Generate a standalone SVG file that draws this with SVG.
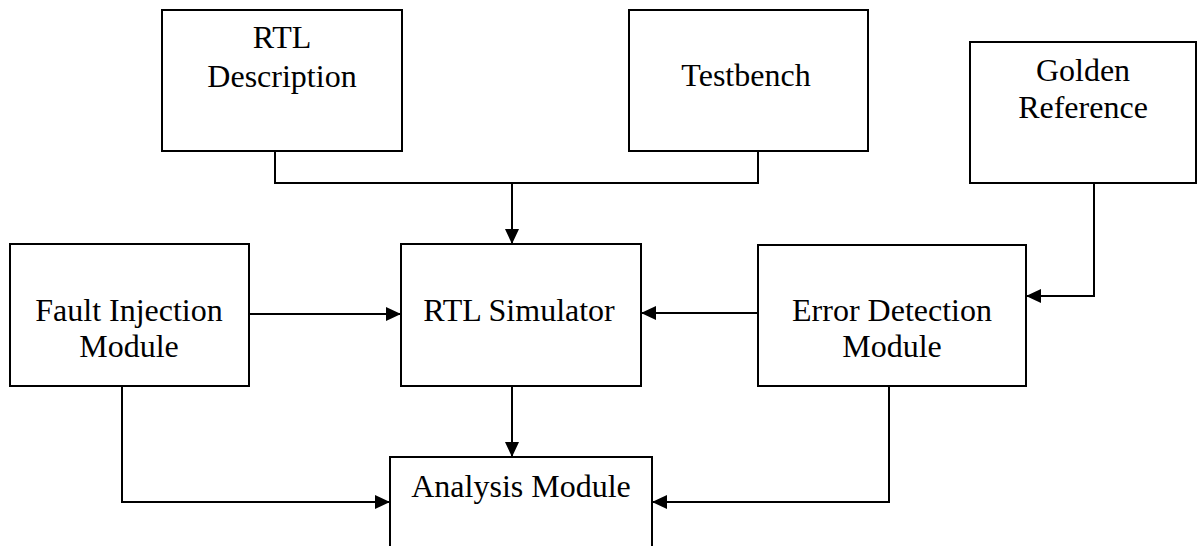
<svg xmlns="http://www.w3.org/2000/svg" width="1197" height="546" viewBox="0 0 1197 546">
  <style>
    .box { fill: #fff; stroke: #000; stroke-width: 2; }
    .lbl { font-family: "Liberation Serif", "Times New Roman", serif; font-size: 32px; fill: #000; text-anchor: middle; }
    .wire { fill: none; stroke: #000; stroke-width: 2; }
  </style>
  <defs>
    <marker id="arrow" markerUnits="userSpaceOnUse" markerWidth="15" markerHeight="14" refX="15" refY="7" orient="auto">
      <path d="M0,0 L15,7 L0,14 Z" fill="#000"/>
    </marker>
  </defs>
  <rect width="1197" height="546" fill="#fff"/>

  <g id="rtl-description">
    <rect class="box" x="162" y="10" width="240" height="141"/>
    <text class="lbl" x="282" y="48">RTL</text>
    <text class="lbl" x="282" y="87">Description</text>
  </g>
  <g id="testbench">
    <rect class="box" x="629" y="10" width="239" height="141"/>
    <text class="lbl" x="746" y="86">Testbench</text>
  </g>
  <g id="golden-reference">
    <rect class="box" x="970" y="42" width="226" height="141"/>
    <text class="lbl" x="1083" y="81">Golden</text>
    <text class="lbl" x="1083" y="118">Reference</text>
  </g>
  <g id="fault-injection">
    <rect class="box" x="10" y="244" width="239" height="142"/>
    <text class="lbl" x="129" y="321">Fault Injection</text>
    <text class="lbl" x="129" y="357">Module</text>
  </g>
  <g id="rtl-simulator">
    <rect class="box" x="401" y="244" width="240" height="142"/>
    <text class="lbl" x="519" y="321">RTL Simulator</text>
  </g>
  <g id="error-detection">
    <rect class="box" x="758" y="245" width="268" height="141"/>
    <text class="lbl" x="892" y="321">Error Detection</text>
    <text class="lbl" x="892" y="357">Module</text>
  </g>
  <g id="analysis">
    <rect class="box" x="390" y="457" width="262" height="110"/>
    <text class="lbl" x="521" y="497">Analysis Module</text>
  </g>

  <g id="connectors">
    <path class="wire" d="M275,151 V183 H758 V151"/>
    <path class="wire" d="M512,183 V244" marker-end="url(#arrow)"/>
    <path class="wire" d="M249,314 H401" marker-end="url(#arrow)"/>
    <path class="wire" d="M758,313 H641" marker-end="url(#arrow)"/>
    <path class="wire" d="M1094,183 V296 H1026" marker-end="url(#arrow)"/>
    <path class="wire" d="M512,386 V457" marker-end="url(#arrow)"/>
    <path class="wire" d="M122,386 V502 H390" marker-end="url(#arrow)"/>
    <path class="wire" d="M889,386 V502 H652" marker-end="url(#arrow)"/>
  </g>
</svg>
